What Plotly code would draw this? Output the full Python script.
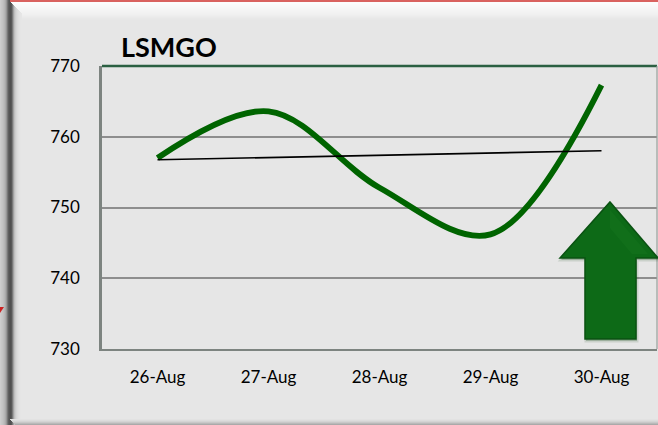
import numpy as np
import plotly.graph_objects as go

# ---- data ----
dates = ["26-Aug", "27-Aug", "28-Aug", "29-Aug", "30-Aug"]
lsmgo = [757.0, 763.6, 752.8, 746.2, 767.3]
y_ticks = [730, 740, 750, 760, 770]
title_text = "LSMGO"

W, H = 658, 425
L, R, T, B = 102, 1, 66, 76
PW, PH = W - L - R, H - T - B

def px(x):
    return (x - L) / PW

def py(y):
    return (H - B - y) / PH

# linear trend derived from the data
idx = np.arange(len(lsmgo))
slope, icpt = np.polyfit(idx, lsmgo, 1)
trend = [icpt + slope * idx[0], icpt + slope * idx[-1]]

fig = go.Figure()
fig.add_trace(go.Scatter(
    x=dates, y=lsmgo, mode="lines",
    line=dict(color="#006400", width=5.8, shape="spline", smoothing=1.0),
    hoverinfo="skip", showlegend=False))
fig.add_trace(go.Scatter(
    x=[dates[0], dates[-1]], y=trend, mode="lines",
    line=dict(color="#000000", width=1.6),
    hoverinfo="skip", showlegend=False))

shapes = []

def rect(x0, y0, x1, y1, color, layer="below"):
    shapes.append(dict(type="rect", xref="paper", yref="paper",
                       x0=px(x0), x1=px(x1), y0=py(y0), y1=py(y1),
                       fillcolor=color, line=dict(width=0), layer=layer))

def gray(v):
    v = int(max(0, min(255, v)))
    return "rgb(%d,%d,%d)" % (v, v, v)

# top band: red line then white fading to background
rect(0, 0, W, 2, "#d9625f")
top_vals = [252, 252, 250, 249, 248, 247, 246, 245, 244, 243, 242, 241, 240, 238, 236, 234, 232, 231]
for i, v in enumerate(top_vals):
    rect(0, 2 + i, W, 3 + i, gray(v))
# left frame gradient
left_vals = [205, 200, 196, 190, 182, 170, 150, 120, 95, 85, 80, 88, 120, 160, 190, 205, 214, 220, 224, 227, 229, 230]
for i, v in enumerate(left_vals):
    rect(i, 0 if i < 10 else 2 + (i - 10), i + 1, H, gray(v))
# bottom bevel
bot_vals = [226, 220, 212, 200, 185, 170]
for i, v in enumerate(bot_vals):
    rect(10 + i, 419 + i, W, 420 + i, gray(v))

# plot frame lines
shapes.append(dict(type="line", xref="paper", yref="paper", x0=0, x1=1, y0=1, y1=1,
                   line=dict(color="#2b6042", width=2.5), layer="above"))
shapes.append(dict(type="line", xref="paper", yref="paper", x0=1, x1=1, y0=0, y1=1,
                   line=dict(color="#9aa09c", width=1.2), layer="above"))

# red marker at left edge
shapes.append(dict(type="path", xref="paper", yref="paper",
                   path="M %f,%f L %f,%f L %f,%f Z" % (px(0), py(307), px(4), py(307), px(0), py(313)),
                   fillcolor="#cc2222", line=dict(width=0), layer="above"))

# green up arrow (decoration)
def arrow(dx, dy, fill, lw, lcol):
    pts = [(610, 202), (658, 258), (636, 258), (636, 339), (585, 339), (585, 258), (560, 258)]
    path = "M " + " L ".join("%f,%f" % (px(x + dx), py(y + dy)) for x, y in pts) + " Z"
    shapes.append(dict(type="path", xref="paper", yref="paper", path=path,
                       fillcolor=fill, line=dict(color=lcol, width=lw), layer="above"))

arrow(1, 2, "rgba(0,60,0,0.22)", 3, "rgba(0,60,0,0.12)")
arrow(0, 0, "#0d6a17", 1.5, "#0a5212")
shapes.append(dict(type="path", xref="paper", yref="paper",
                   path="M %f,%f L %f,%f L %f,%f L %f,%f Z" % (
                       px(610), py(210), px(648), py(254), px(632), py(254), px(610), py(228)),
                   fillcolor="rgba(40,140,50,0.15)", line=dict(width=0), layer="above"))

fig.update_layout(
    width=W, height=H,
    margin=dict(l=L, r=R, t=T, b=B, pad=0),
    paper_bgcolor="#e6e6e6", plot_bgcolor="#e6e6e6",
    font=dict(family="Lato, 'Open Sans', sans-serif", size=17, color="#000000"),
    shapes=shapes,
    annotations=[dict(text="<b>%s</b>" % title_text, xref="paper", yref="paper",
                      x=px(119), y=py(47), xanchor="left", yanchor="middle",
                      showarrow=False, font=dict(size=27, color="#000000"))],
    xaxis=dict(type="category", range=[-0.5, len(dates) - 0.5], showgrid=False,
               showline=True, linecolor="#7d8480", linewidth=2, ticks="",
               ticklabelstandoff=12, fixedrange=True),
    yaxis=dict(range=[730, 770], tickvals=y_ticks, showgrid=True, gridcolor="#8e8e8e",
               gridwidth=1.6, showline=True, linecolor="#7d8480", linewidth=2.5,
               ticks="", ticklabelstandoff=16, zeroline=False, fixedrange=True),
)

fig.write_html("out.html", config={"displayModeBar": False},
               post_script="document.body.style.margin='0';document.body.style.overflow='hidden';")
